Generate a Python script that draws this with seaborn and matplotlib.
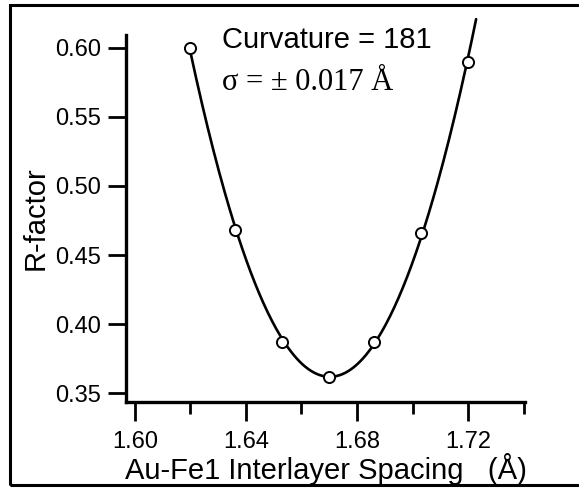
import numpy as np
import pandas as pd
import matplotlib.pyplot as plt
import matplotlib.patches as patches
import seaborn as sns

# Styling
sns.set_style("ticks")
plt.rcParams['font.family'] = ['Liberation Sans', 'DejaVu Sans']
plt.rcParams['text.color'] = 'black'
plt.rcParams['axes.labelcolor'] = 'black'
plt.rcParams['xtick.color'] = 'black'
plt.rcParams['ytick.color'] = 'black'
plt.rcParams['axes.edgecolor'] = 'black'

# Data
spacing = [1.620, 1.636, 1.653, 1.670, 1.686, 1.703, 1.720]
r_factor = [0.600, 0.468, 0.387, 0.3616, 0.387, 0.466, 0.590]
curve_end = 1.7229

x_major = [1.60, 1.64, 1.68, 1.72]
x_minor = [1.62, 1.66, 1.70, 1.74]
y_major = [0.35, 0.40, 0.45, 0.50, 0.55, 0.60]

df = pd.DataFrame({'spacing': spacing, 'r_factor': r_factor})

# Parabolic fit through the points
coef = np.polyfit(df['spacing'], df['r_factor'], 2)
fit_x = np.linspace(spacing[0], curve_end, 200)
fit = pd.DataFrame({'spacing': fit_x, 'r_factor': np.polyval(coef, fit_x)})

fig = plt.figure(figsize=(5.79, 4.88), dpi=100)
ax = fig.add_axes([0.2176, 0.1762, 0.6891, 0.7521])

sns.lineplot(data=fit, x='spacing', y='r_factor', color='black', linewidth=1.9,
             ax=ax, clip_on=False, zorder=2)
ax.plot(df['spacing'], df['r_factor'], linestyle='none', marker='o', markersize=8,
        markerfacecolor='white', markeredgecolor='black', markeredgewidth=1.4,
        clip_on=False, zorder=3)

ax.set_xlim(1.5968, 1.7405)
ax.set_ylim(0.3435, 0.6094)
ax.set_xticks(x_major)
ax.set_xticklabels([f"{v:.2f}" for v in x_major])
ax.set_xticks(x_minor, minor=True)
ax.set_yticks(y_major)
ax.set_yticklabels([f"{v:.2f}" for v in y_major])

sns.despine(ax=ax)
for side in ['left', 'bottom']:
    ax.spines[side].set_linewidth(2.4)
ax.tick_params(axis='y', which='major', length=13, width=2, pad=5, labelsize=17)
ax.tick_params(axis='x', which='major', length=14, width=2, pad=7, labelsize=17)
ax.tick_params(axis='x', which='minor', length=8.5, width=2)

ax.set_xlabel("Au-Fe1 Interlayer Spacing   (Å)", fontsize=21, labelpad=0)
ax.set_ylabel("R-factor", fontsize=21, labelpad=4)

fig.text(0.383, 0.902, "Curvature = 181", fontsize=21)
fig.text(0.383, 0.816, "σ = ± 0.017 Å", fontsize=22,
         family=['Liberation Serif', 'DejaVu Serif'])

# Scanned frame round the figure
frame = patches.Rectangle((0.0173, 0.0061), 1.0, 0.9837, fill=False,
                          edgecolor='black', linewidth=2.2,
                          transform=fig.transFigure, clip_on=False)
fig.patches.append(frame)

fig.savefig('out.png', dpi=100)
